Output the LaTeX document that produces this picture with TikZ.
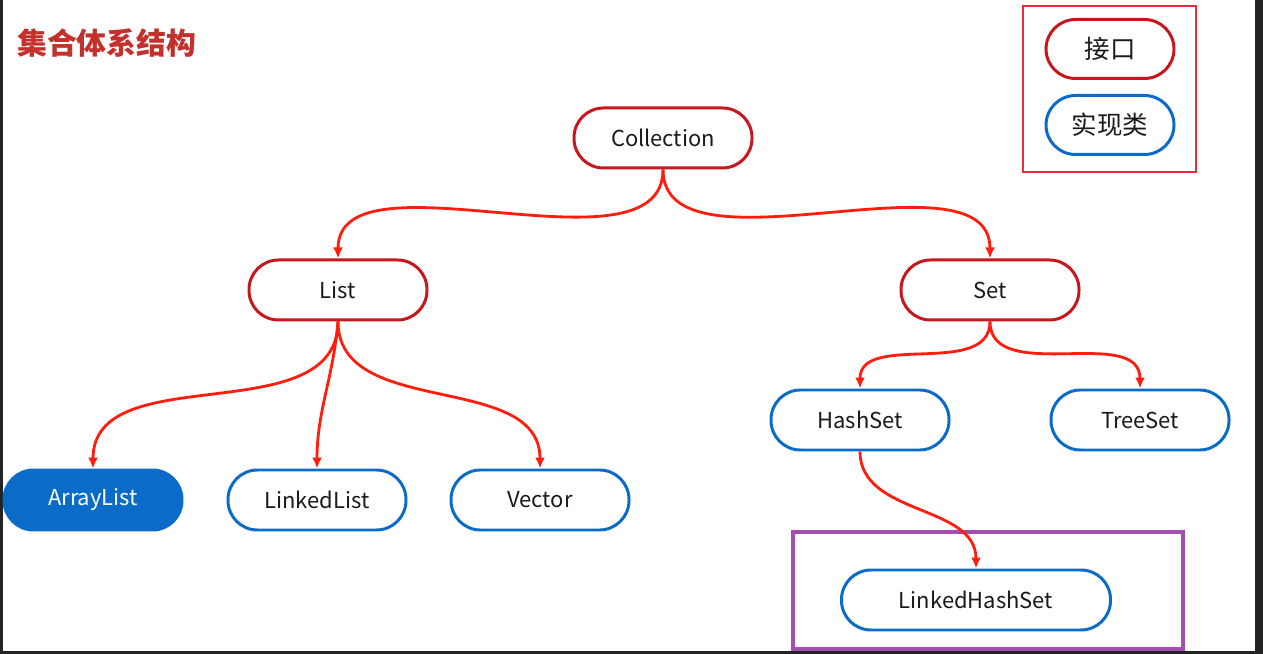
\documentclass[tikz,border=0pt]{standalone}
\usepackage{fontspec}
\setmainfont{Noto Sans CJK SC}
\usetikzlibrary{arrows.meta}
\definecolor{cdark}{HTML}{232323}
\definecolor{cred}{HTML}{C8161D}
\definecolor{cblue}{HTML}{0A6CC8}
\definecolor{carrow}{HTML}{FF1E0E}
\definecolor{cpurple}{HTML}{A24FAF}
\definecolor{clegend}{HTML}{EA2A3A}
\definecolor{ctitle}{HTML}{C4302B}
\definecolor{ctext}{HTML}{1A1A1A}
\tikzset{
  iface/.style={rectangle,rounded corners=5.9mm,draw=cred,fill=white,line width=1.7pt,minimum width=3.56cm,minimum height=1.2cm,font=\fontsize{12.5}{14}\selectfont,text=ctext},
  impl/.style={iface,draw=cblue},
  keybox/.style={iface,minimum width=2.56cm,minimum height=1.18cm,font=\fontsize{14.5}{16}\selectfont},
  rel/.style={-{Latex[length=2.2mm,width=2mm]},draw=carrow,line width=1.6pt},
  title/.style={font=\fontsize{17}{20}\selectfont\bfseries,text=ctitle},
}
\begin{document}
\begin{tikzpicture}
  % screen frame
  \fill[cdark] (0,0) rectangle (25.26,13.08);
  \fill[white] (0.06,0.06) rectangle (25.10,13.08);
  \useasboundingbox (0,0) rectangle (25.26,13.08);
  \node[title,anchor=west] (title) at (0.22,12.22) {集合体系结构};
  % legend
  \draw[clegend,line width=1.2pt] (20.46,9.64) rectangle (23.92,12.96);
  \node[keybox] (kiface) at (22.20,12.10) {接口};
  \node[keybox,draw=cblue] (kimpl) at (22.20,10.58) {实现类};
  % tree
  \node[iface] (coll) at (13.26,10.32) {Collection};
  \node[iface] (list) at (6.76,7.28) {List};
  \node[iface] (set) at (19.80,7.28) {Set};
  \node[impl,fill=cblue,text=white] (alist) at (1.86,3.08) {ArrayList};
  \node[impl] (llist) at (6.34,3.08) {LinkedList};
  \node[impl] (vec) at (10.80,3.08) {Vector};
  \node[impl] (hset) at (17.20,4.68) {HashSet};
  \node[impl] (tset) at (22.80,4.68) {TreeSet};
  \draw[cpurple,line width=2pt] (15.86,0.10) rectangle (23.66,2.44);
  \node[impl,minimum width=5.38cm] (lhset) at (19.52,1.08) {LinkedHashSet};
  \draw[rel] (coll.south) to[out=-90,in=90,looseness=0.85] (list.north);
  \draw[rel] (coll.south) to[out=-90,in=90,looseness=0.85] (set.north);
  \draw[rel] (list.south) to[out=-90,in=90] (alist.north);
  \draw[rel] (list.south) to[out=-95,in=90] (llist.north);
  \draw[rel] (list.south) to[out=-90,in=90] (vec.north);
  \draw[rel] (set.south) to[out=-90,in=90] (hset.north);
  \draw[rel] (set.south) to[out=-90,in=90] (tset.north);
  \draw[rel] (hset.south) to[out=-90,in=90] (lhset.north);
\end{tikzpicture}
\end{document}
